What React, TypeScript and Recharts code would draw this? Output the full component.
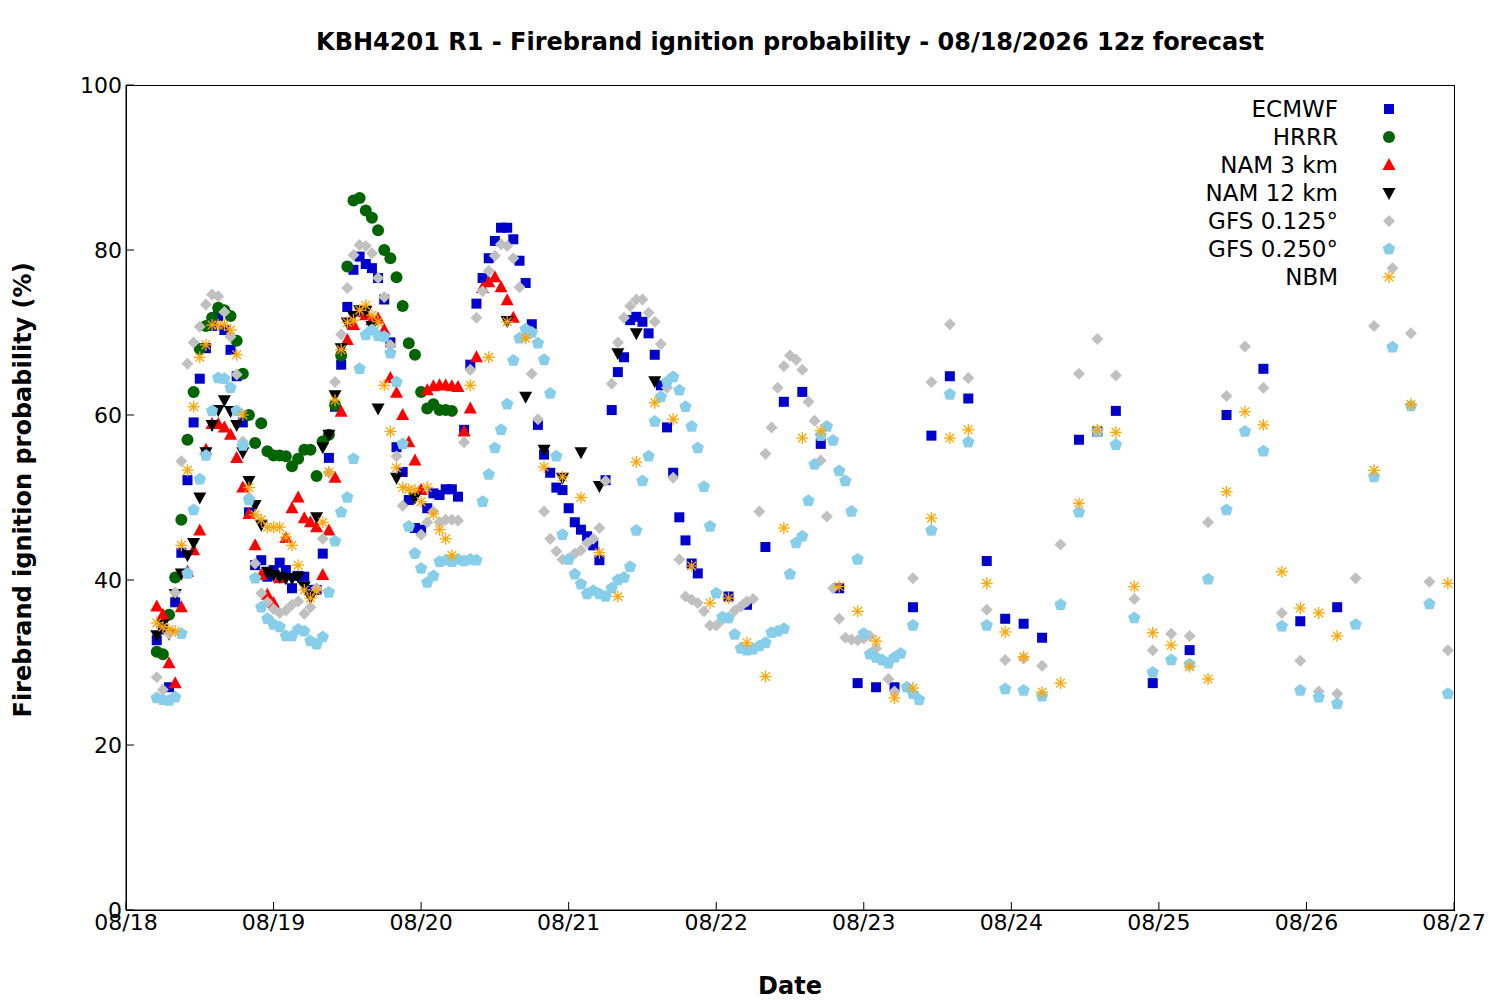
import { ScatterChart, Scatter, XAxis, YAxis } from 'recharts';

// hours since 08/18 00z; each block: [first hour, step, values]
type Block = [number, number, (number | null)[]];

const DAY_LABELS = ['08/18', '08/19', '08/20', '08/21', '08/22', '08/23', '08/24', '08/25', '08/26', '08/27'];
const X_TICKS = [0, 24, 48, 72, 96, 120, 144, 168, 192, 216];
const Y_TICKS = [0, 20, 40, 60, 80, 100];

const ECMWF: Block[] = [
  [5, 1, [32.7, 34, 27, 37.3, 43.3, 52.1, 59.1, 64.4, 68.1, 70.8, 72, 70.3, 67.9, 64.7, 59.1, 48.2, 41.8, 42.4, 40.4, 41.2,
    42.1, 41.2, 39, 40.5, 40.4, 38.8, 38.8, 43.2, 54.8, 61, 66.1, 73.1, 77.6, 79.2, 78.3, 77.8, 76.6, 74, 68.8, 56.1,
    53.1, 49.7, 46.3, 46.1, 48.7, 50.5, 50.3, 51, 51, 50.1, 58.2, 66.1, 73.5, 76.6, 79, 81.1, 82.7, 82.7, 81.3, 78.7,
    76, 71, 58.8, 55.2, 53, 51.2, 50.9, 48.7, 47, 46.1, 45.3, 44.2, 42.4, 52.1, 60.6, 65.2, 67, 71.5, 71.9, 71.3,
    69.9, 67.3, 63.6, 58.5, 53, 47.6, 44.8, 42, 40.8]],
  [98, 3, [38, 37, 44, 61.6, 62.8, 56.5, 39, 27.5, 27, 27, 36.7, 57.5, 64.7, 62, 42.3, 35.3, 34.7, 33, null, 57, 58, 60.5]],
  [167, 6, [27.5, 31.5, 60, 65.6, 35, 36.7]],
];

const HRRR: Block[] = [
  [5, 1, [31.3, 31, 35.8, 40.3, 47.3, 57, 62.8, 68, 70.8, 71.8, 73, 72.7, 72, 69, 65, 60, 56.6, 59, 55.6, 55.1,
    55.1, 55, 53.8, 54.7, 55.8, 55.8, 52.6, 56.8, 57.6, 61.2, 67.2, 78, 86, 86.3, 84.8, 83.9, 82.4, 80, 79, 76.7,
    73.2, 68.7, 67.3, 62.8, 60.8, 61.3, 60.6, 60.6, 60.5]],
];

const NAM3: Block[] = [
  [5, 1, [36.8, 35.8, 29.9, 27.5, 36.7, 41, 43.6, 46, 55.8, 58.9, 58.9, 58.5, 57.6, 54.8, 51.2, 48, 44.2, 40.6, 38.2, 37.2,
    40.2, 45.1, 48.7, 50, 47.5, 47, 46.4, 40.6, 46, 52.4, 60.4, 69.1, 70.9, 72.5, 72.1, 71.5, 71.7, 70.3, 64.5, 62.7,
    60, 56.7, 54.5, 50.9, 63, 63.5, 63.6, 63.6, 63.5, 63.4, 58, 60.8, 67, 75.4, 76.1, 76.7, 75.5, 73.9, 71.8]],
];

const NAM12: Block[] = [
  [5, 1, [33.3, 34.6, 33.5, 38.3, 40.8, 43, 44.5, 50, 55.5, 58.8, 60.6, 61.8, 60.5, 58.8, 55.5, 52, 49.1, 46.7, 41, 40.6,
    40.4, 40.2, 40.2, 40.4, 39.2, 37.9, 47.6, 56.1, 57.6, 62.4, 68.1, 71.2, 72, 72.7, 72.6, 70.8]],
  [41, 3, [60.8, 52.4, 50, null, null, null, null, 71.4, 62.2, 55.8, 52.4, 55.5, 51.4, 67.5, 69.9, 64.1]],
];

const GFS0125: Block[] = [
  [5, 1, [28.2, 26.7, 33.5, 38.5, 54.4, 66.2, 68.8, 70.7, 73.4, 74.6, 74.4, 72.5, 69.5, 64.9, 56.8, 50, 42, 38.4, 37.3, 36.5,
    36, 36.3, 37, 37.4, 35.9, 36.7, 39, 45, 53, 64, 69.8, 75.4, 79.4, 80.6, 80.5, 79.6, 76.6, 74.3, 68.5, 55,
    49, 46.5, 43.2, 45.5, 47, 48.3, 47, 47.3, 47.3, 47.2, 56.7, 65.5, 71.8, 75, 77.5, 79.3, 80.7, 80.5, 79, 75.5,
    69.5, 65, 59.5, 48.3, 45, 43.5, 42.5, 42.6, 43.2, 43.6, 44.5, 45, 46.3, 52, 63.8, 68.8, 71.8, 73.2, 74, 74,
    72.4, 71.3, 68.6, 63.3, 52.4, 42.5, 38, 37.6, 37.2, 36.2, 34.5, 34.5, 35.2, 35.4, 36.3, 36.8, 37.4, 37.7, 48.3, 55.3,
    58.5, 63.3, 65.9, 67.2, 66.7, 65.5, 61.6, 59.3, 54.5, 47.7, 39, 35.3, 33, 32.8, 32.7, 32.9, 33.2, 31.7, 30.3, 28, 26.5]],
  [128, 3, [40.2, 64, 71, 64.5, 36.4, 30.3, 30.5, 29.6, 44.3, 65, 69.2, 64.8, 37.7, 31.5, 33.5, 33.2, 47, 62.3, 68.3, 63.3,
    36, 30.2, 26.5, 26.2, 40.2, 70.8, 77.8, 69.9, 39.8, 31.5]],
];

const GFS0250: Block[] = [
  [5, 1, [25.7, 25.5, 25.4, 25.8, 33.5, 40.8, 48.5, 52.2, 55.1, 60.5, 64.5, 64.4, 63.3, 60.5, 56.3, 49.7, 40.2, 36.7, 35.3, 34.6,
    34.3, 33.2, 33.2, 34, 33.8, 32.6, 32.2, 33.1, 38.5, 44.7, 48.2, 50, 54.7, 65.6, 69.7, 70.3, 69.6, 69.5, 67.5, 64,
    56.5, 46.5, 43.2, 41.4, 39.7, 40.5, 42.2, 42.4, 42.2, 42.5, 42.3, 42.5, 42.4, 49.5, 52.8, 56, 58.2, 61.3, 66.6, 69.3,
    70.4, 70, 68.7, 66.7, 62.6, 55, 45.5, 42.5, 40.7, 39.5, 38.3, 38.7, 38.3, 38, 39, 40, 40.3, 41.6, 46, 52,
    55, 59.2, 62.2, 64, 64.6, 63, 61, 58.6, 56, 51.3, 46.5, 38.4, 35.5, 35.4, 33.4, 31.7, 31.5, 31.6, 32, 32.4,
    33.6, 33.8, 34.1, 40.7, 44.5, 45.3, 49.6, 54, 57.5, 58.6, 56.9, 53.2, 52, 48.3, 42.5, 33.5, 31, 30.6, 30.3, 29.9,
    30.6, 31.1, 27, 26.2, 25.5]],
  [128, 3, [34.5, 46, 62.5, 56.7, 34.5, 26.8, 26.6, 25.9, 37, 48.2, 58, 56.4, 35.4, 28.8, 30.3, 29.8, 40.1, 48.5, 58, 55.6,
    34.4, 26.6, 25.8, 25, 34.6, 52.5, 68.2, 61.1, 37.1, 26.2]],
];

const NBM: Block[] = [
  [5, 1, [34.8, 34.3, 34, 33.8, 44.2, 53.3, 61, 67, 68.5, 70.9, 70.9, 70.9, 70.3, 67.3, 60, 51.2, 47.9, 47.3, 46.4, 46.4,
    46.4, 45.2, 44.2, 41.8, 38.8, 37.8, 38.7, 47, 53.1, 61.8, 67.9, 71.2, 71.5, 72.7, 73.3, 72.1, 71.3, 63.6, 58, 53.6,
    51.2, 51, 50.9, 49.5, 51.2, 48, 46.1, 45, 43]],
  [56, 3, [63.6, 67, 71.3, 69.3, 53.7, 52.5, 50, 43.3, 38, 54.3, 61.5, 59.5, 41.7, 37.2, 37.8, 32.4]],
  [104, 3, [28.3, 46.3, 57.2, 58.1, 39.2, 36.2, 32.6, 25.7, 26.9, 47.5, 57.2, 58.2, 39.6, 33.7, 30.7, 26.4, 27.5, 49.3, 58.2, 57.9,
    39.2, 33.6, 32.1, 29.5, 28, 50.7, 60.4, 58.8, 41, 36.6, 36, 33.2, null, 53.3, null, 61.3, null, 39.6]],
];

const toPoints = (blocks: Block[]) =>
  blocks.flatMap(([h0, step, vals]) =>
    vals.map((v, i) => ({ x: h0 + i * step, y: v })).filter((p) => p.y !== null));

const Square = ({ cx, cy, fill }: any) => <rect x={cx - 5} y={cy - 5} width={10} height={10} fill={fill} />;
const Circle = ({ cx, cy, fill }: any) => <circle cx={cx} cy={cy} r={6} fill={fill} />;
const TriUp = ({ cx, cy, fill }: any) => (
  <polygon points={`${cx},${cy - 7} ${cx + 6.5},${cy + 5} ${cx - 6.5},${cy + 5}`} fill={fill} />
);
const TriDown = ({ cx, cy, fill }: any) => (
  <polygon points={`${cx},${cy + 7} ${cx + 6.5},${cy - 5} ${cx - 6.5},${cy - 5}`} fill={fill} />
);
const Diamond = ({ cx, cy, fill }: any) => (
  <polygon points={`${cx},${cy - 6} ${cx + 6},${cy} ${cx},${cy + 6} ${cx - 6},${cy}`} fill={fill} />
);
const Pentagon = ({ cx, cy, fill }: any) => {
  const pts = [0, 1, 2, 3, 4].map((k) => {
    const a = -Math.PI / 2 + (k * 2 * Math.PI) / 5;
    return `${cx + 6.5 * Math.cos(a)},${cy + 6.5 * Math.sin(a)}`;
  });
  return <polygon points={pts.join(' ')} fill={fill} />;
};
const Star = ({ cx, cy, fill }: any) => (
  <g stroke={fill} strokeWidth={1.3}>
    <line x1={cx - 6} y1={cy} x2={cx + 6} y2={cy} />
    <line x1={cx} y1={cy - 6} x2={cx} y2={cy + 6} />
    <line x1={cx - 4.3} y1={cy - 4.3} x2={cx + 4.3} y2={cy + 4.3} />
    <line x1={cx - 4.3} y1={cy + 4.3} x2={cx + 4.3} y2={cy - 4.3} />
  </g>
);

const SERIES = [
  { name: 'ECMWF', data: toPoints(ECMWF), color: '#0000cc', Shape: Square },
  { name: 'HRRR', data: toPoints(HRRR), color: '#006400', Shape: Circle },
  { name: 'NAM 3 km', data: toPoints(NAM3), color: '#ff0000', Shape: TriUp },
  { name: 'NAM 12 km', data: toPoints(NAM12), color: '#000000', Shape: TriDown },
  { name: 'GFS 0.125°', data: toPoints(GFS0125), color: '#c0c0c0', Shape: Diamond },
  { name: 'GFS 0.250°', data: toPoints(GFS0250), color: '#87ceeb', Shape: Pentagon },
  { name: 'NBM', data: toPoints(NBM), color: '#ffa500', Shape: Star },
];

export default function App() {
  return (
    <div style={{ position: 'absolute', left: 0, top: 0, width: 1500, height: 1000, background: '#fff', fontFamily: 'DejaVu Sans' }}>
      <div style={{ position: 'absolute', top: 28, left: 0, width: 1580, textAlign: 'center', fontWeight: 'bold', fontSize: 24 }}>
        KBH4201 R1 - Firebrand ignition probability - 08/18/2026 12z forecast
      </div>
      <div style={{ position: 'absolute', left: 126, top: 85, width: 1327, height: 824, border: '1px solid #000' }} />
      <div style={{ position: 'absolute', top: 0, left: 0 }}>
        <ScatterChart width={1500} height={1000} margin={{ top: 85, right: 46, left: 0, bottom: 0 }}>
          <XAxis type="number" dataKey="x" domain={[0, 216]} ticks={X_TICKS} interval={0}
            tickFormatter={(v: number) => DAY_LABELS[v / 24]} height={90} stroke="#000"
            tick={{ fontSize: 22, fill: '#000', dy: 10 }} tickSize={-8}
            label={{ value: 'Date', position: 'insideBottom', offset: 6, fontSize: 24, fontWeight: 'bold', fill: '#000' }} />
          <YAxis type="number" dataKey="y" domain={[0, 100]} ticks={Y_TICKS} width={126} stroke="#000"
            tick={{ fontSize: 22, fill: '#000', dx: -10 }} tickSize={-8}
            label={{ value: 'Firebrand ignition probability (%)', angle: -90, position: 'insideLeft', offset: 22, dy: 220, fontSize: 24, fontWeight: 'bold', fill: '#000' }} />
          {SERIES.map((s) => (
            <Scatter key={s.name} name={s.name} data={s.data} fill={s.color}
              shape={<s.Shape />} isAnimationActive={false} />
          ))}
        </ScatterChart>
      </div>
      <svg style={{ position: 'absolute', left: 1100, top: 95 }} width={320} height={200}>
        {SERIES.map((s, i) => (
          <g key={s.name}>
            <text x={238} y={22 + i * 28} textAnchor="end" fontSize={23} fill="#000" fontFamily="DejaVu Sans">{s.name}</text>
            <s.Shape cx={289} cy={14 + i * 28} fill={s.color} />
          </g>
        ))}
      </svg>
    </div>
  );
}
